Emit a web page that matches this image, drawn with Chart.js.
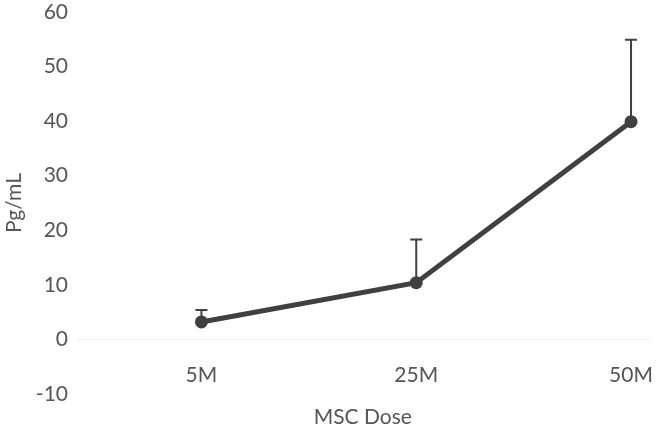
<!DOCTYPE html>
<html>
<head>
<meta charset="utf-8">
<script src="https://cdn.jsdelivr.net/npm/chart.js@4/dist/chart.umd.min.js"></script>
<style>
    html, body { margin: 0; padding: 0; background: #fff; }
    #wrap { width: 656px; height: 428px; position: relative; }
</style>
</head>
<body>
<div id="wrap"><canvas id="doseChart"></canvas></div>
<script>
// ข้อมูลกราฟ
const categories = ['5M', '25M', '50M'];
const meanValues = [3.2, 10.4, 39.9];
const errorUpper = [5.4, 18.3, 54.9];
const yTicks = [-10, 0, 10, 20, 30, 40, 50, 60];

const lineColor = '#404040';
const textColor = '#555555';
const fontFamily = "Lato, 'Open Sans', sans-serif";

// error bar (ขึ้นด้านบนอย่างเดียว)
const errorBarPlugin = {
    id: 'errorBars',
    beforeDatasetsDraw(chart) {
        const ctx = chart.ctx;
        const xs = chart.scales.x;
        const ys = chart.scales.y;
        ctx.save();
        ctx.strokeStyle = lineColor;
        ctx.lineWidth = 2;
        categories.forEach((c, i) => {
            const x = xs.getPixelForValue(i);
            const y0 = ys.getPixelForValue(meanValues[i]);
            const y1 = ys.getPixelForValue(errorUpper[i]);
            ctx.beginPath();
            ctx.moveTo(x, y0);
            ctx.lineTo(x, y1);
            ctx.moveTo(x - 6, y1);
            ctx.lineTo(x + 6, y1);
            ctx.stroke();
        });
        ctx.restore();
    }
};

const ctx = document.getElementById('doseChart').getContext('2d');

new Chart(ctx, {
    type: 'line',
    data: {
        datasets: [{
            label: 'Pg/mL',
            data: categories.map((c, i) => ({ x: i, y: meanValues[i] })),
            borderColor: lineColor,
            backgroundColor: lineColor,
            borderWidth: 5,
            pointRadius: 6.5,
            pointBackgroundColor: lineColor,
            pointBorderWidth: 0,
            tension: 0
        }]
    },
    options: {
        responsive: true,
        maintainAspectRatio: false,
        animation: false,
        layout: {
            padding: { top: 12, bottom: 34, left: 0, right: 0 }
        },
        plugins: {
            legend: { display: false },
            tooltip: { enabled: false }
        },
        scales: {
            x: {
                type: 'linear',
                position: { y: 0 },
                min: -0.584,
                max: 2.086,
                afterBuildTicks: scale => {
                    scale.ticks = categories.map((c, i) => ({ value: i }));
                },
                afterFit: scale => {
                    scale.paddingLeft = 0;
                    scale.paddingRight = 0;
                    scale.height = 90;
                },
                grid: {
                    display: false,
                    drawTicks: false
                },
                border: {
                    display: true,
                    color: '#f2f2f2',
                    width: 1
                },
                ticks: {
                    padding: 23,
                    color: textColor,
                    font: { size: 21, family: fontFamily },
                    callback: value => categories[value]
                },
                title: {
                    display: true,
                    text: 'MSC Dose',
                    color: textColor,
                    font: { size: 21, family: fontFamily },
                    padding: 0
                }
            },
            y: {
                min: -10,
                max: 60,
                afterBuildTicks: scale => {
                    scale.ticks = yTicks.map(v => ({ value: v }));
                },
                afterFit: scale => {
                    scale.width = 76;
                    scale.paddingTop = 0;
                    scale.paddingBottom = 0;
                },
                grid: {
                    display: false,
                    drawTicks: false
                },
                border: { display: false },
                ticks: {
                    padding: 8,
                    color: textColor,
                    font: { size: 21, family: fontFamily }
                },
                title: {
                    display: true,
                    text: 'Pg/mL',
                    color: textColor,
                    font: { size: 21, family: fontFamily },
                    padding: { top: 2, bottom: 0 }
                }
            }
        }
    },
    plugins: [errorBarPlugin]
});
</script>
</body>
</html>
